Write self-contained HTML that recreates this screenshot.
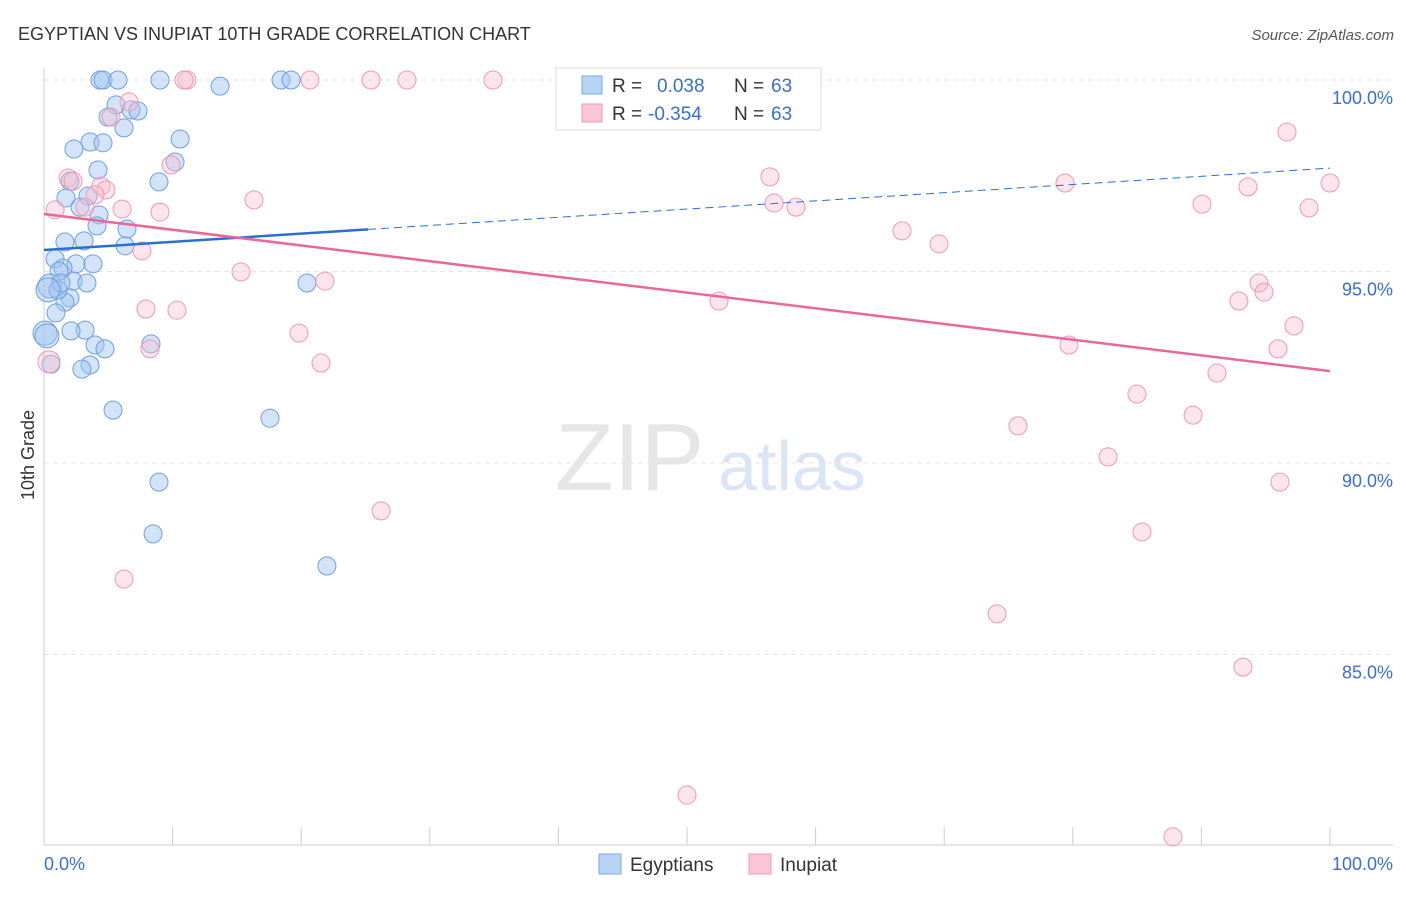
<!DOCTYPE html>
<html><head><meta charset="utf-8">
<style>
body{margin:0;background:#fff;font-family:"Liberation Sans",sans-serif;}
svg text{font-family:"Liberation Sans",sans-serif;}
</style></head>
<body>
<svg id="chart" width="1406" height="892" xmlns="http://www.w3.org/2000/svg">
<text x="18" y="40" font-size="18" fill="#333">EGYPTIAN VS INUPIAT 10TH GRADE CORRELATION CHART</text>
<text x="1394" y="40" font-size="15" fill="#555" text-anchor="end" font-style="italic">Source: ZipAtlas.com</text>
<text x="555" y="490" font-size="96" fill="#e6e6e6" font-family="Liberation Serif">ZIP</text>
<text x="718" y="490" font-size="70" fill="#dbe6f5">atlas</text>
<g id="grid"></g><g id="axes"></g><g id="marks"></g>
<text transform="translate(34,455) rotate(-90)" font-size="18" fill="#333" text-anchor="middle">10th Grade</text>
<g>
<rect x="556" y="68" width="265" height="62" fill="#fff" stroke="#ddd"/>
<rect x="582" y="76" width="20" height="18" fill="#b8d4f5" stroke="#7aa8e6"/>
<text x="612" y="92" font-size="19" fill="#333">R = </text><text x="657" y="92" font-size="19" fill="#3a6fd0">0.038</text>
<text x="734" y="92" font-size="19" fill="#333">N = </text><text x="771" y="92" font-size="19" fill="#3a6fd0">63</text>
<rect x="582" y="104" width="20" height="18" fill="#f8c6d6" stroke="#ec9ab5"/>
<text x="612" y="120" font-size="19" fill="#333">R = </text><text x="648" y="120" font-size="19" fill="#3a6fd0">-0.354</text>
<text x="734" y="120" font-size="19" fill="#333">N = </text><text x="771" y="120" font-size="19" fill="#3a6fd0">63</text>
</g>
<g>
<rect x="599" y="854" width="22" height="20" fill="#b8d4f5" stroke="#7aa8e6"/>
<text x="630" y="871" font-size="19" fill="#333">Egyptians</text>
<rect x="749" y="854" width="22" height="20" fill="#f8c6d6" stroke="#ec9ab5"/>
<text x="780" y="871" font-size="19" fill="#333">Inupiat</text>
</g>
</svg>
<script>
const yTicks=[100,95,90,85];
const yTickLabels=["100.0%","95.0%","90.0%","85.0%"];
const xTicks=[0,10,20,30,40,50,60,70,80,90,100];
const blueX=[4.35,4.59,5.75,9.02,13.69,18.43,19.21,5.6,6.77,7.31,4.98,6.22,10.58,3.58,4.59,2.33,10.19,4.2,2.02,8.94,3.42,1.71,2.8,4.28,4.12,6.45,1.63,3.11,6.3,0.86,2.49,3.81,1.48,1.17,2.26,3.34,20.45,0.47,2.02,1.63,0.93,3.19,2.1,0.08,0.23,3.97,4.74,8.32,3.58,2.95,5.37,17.57,8.94,8.48,22.0,0.54,1.09,1.32,0.31];
const blueY=[100,100,100,100,99.84,100,100,99.35,99.22,99.19,99.03,98.75,98.46,98.38,98.36,98.2,97.86,97.65,97.36,97.34,96.97,96.92,96.68,96.48,96.19,96.11,95.77,95.8,95.67,95.33,95.2,95.2,95.09,95.01,94.75,94.7,94.7,94.62,94.31,94.2,93.92,93.47,93.45,93.39,93.32,93.08,92.98,93.11,92.56,92.45,91.38,91.17,89.5,88.15,87.31,92.58,94.52,94.7,94.52];
const pinkX=[11.12,10.89,20.68,25.43,28.23,34.91,47.2,6.61,5.21,96.66,9.88,1.87,2.26,4.43,4.82,3.97,3.19,6.07,0.86,16.33,9.02,56.45,79.39,93.62,100,56.77,58.48,90.05,98.37,66.72,69.6,7.62,15.32,21.85,94.48,94.87,7.93,10.34,52.49,92.92,97.2,19.83,79.7,95.96,8.24,21.54,0.39,91.21,84.99,89.35,75.74,82.74,96.11,26.21,85.38,6.22,74.11,93.23,50.0,87.79];
const pinkY=[100,100,100,100,100,100,100,99.43,99.03,98.64,97.78,97.44,97.36,97.23,97.13,97.0,96.68,96.63,96.61,96.87,96.55,97.47,97.31,97.21,97.31,96.79,96.68,96.76,96.66,96.06,95.72,95.54,94.99,94.75,94.7,94.46,94.02,93.99,94.23,94.23,93.58,93.39,93.08,92.98,92.98,92.61,92.64,92.35,91.8,91.25,90.97,90.16,89.5,88.75,88.2,86.97,86.06,84.67,81.33,80.24];
const blueTrend=[95.56,97.70];
const pinkTrend=[96.5,92.40];
const X=v=>44+v*12.86, Y=v=>80+(100-v)*38.3;
const NS="http://www.w3.org/2000/svg";
function mk(p,t,a){const e=document.createElementNS(NS,t);for(const k in a)e.setAttribute(k,a[k]);p.appendChild(e);return e;}
const grid=document.getElementById('grid'),axes=document.getElementById('axes'),marks=document.getElementById('marks');
yTicks.forEach((t,i)=>{
 const l=mk(grid,'line',{x1:44,x2:1393,y1:Y(t),y2:Y(t),stroke:'#e4e4e4','stroke-dasharray':'5,4'});
 
 
 const tx=mk(axes,'text',{x:1393,y:Y(t)+24,'font-size':18,fill:'#3a6fd0','text-anchor':'end'});
 tx.textContent=yTickLabels[i];
 
 
});
let a=mk(axes,'line',{x1:44,x2:44,y1:68,y2:845,stroke:'#ccc'});


a=mk(axes,'line',{x1:44,x2:1393,y1:845,y2:845,stroke:'#ccc'});


xTicks.forEach(t=>{const l=mk(axes,'line',{x1:X(t),x2:X(t),y1:827,y2:845,stroke:'#ccc'});
 
 });
let tl=mk(axes,'text',{x:44,y:870,'font-size':18,fill:'#3a6fd0'});tl.textContent='0.0%';


tl=mk(axes,'text',{x:1393,y:870,'font-size':18,fill:'#3a6fd0','text-anchor':'end'});tl.textContent='100.0%';


blueX.forEach((x,i)=>{const c=mk(marks,'circle',{cx:X(x),cy:Y(blueY[i]),r:x<0.5?12:9,fill:'rgba(160,196,240,0.45)',stroke:'#6d9fe0','stroke-width':1});
 
 });
pinkX.forEach((x,i)=>{const c=mk(marks,'circle',{cx:X(x),cy:Y(pinkY[i]),r:x<0.5?11:9,fill:'rgba(248,190,208,0.4)',stroke:'#eb9ab4','stroke-width':1});
 
 });
const bAt=x=>blueTrend[0]+(blueTrend[1]-blueTrend[0])*x/100;
let t=mk(marks,'line',{x1:X(0),y1:Y(bAt(0)),x2:X(25.2),y2:Y(bAt(25.2)),stroke:'#2b6fd1','stroke-width':2.5});


t=mk(marks,'line',{x1:X(25.2),y1:Y(bAt(25.2)),x2:X(100),y2:Y(bAt(100)),stroke:'#2b6fd1','stroke-width':1,'stroke-dasharray':'8,5'});


t=mk(marks,'line',{x1:X(0),y1:Y(pinkTrend[0]),x2:X(100),y2:Y(pinkTrend[1]),stroke:'#e8689a','stroke-width':2.5});


</script>
</body></html>
